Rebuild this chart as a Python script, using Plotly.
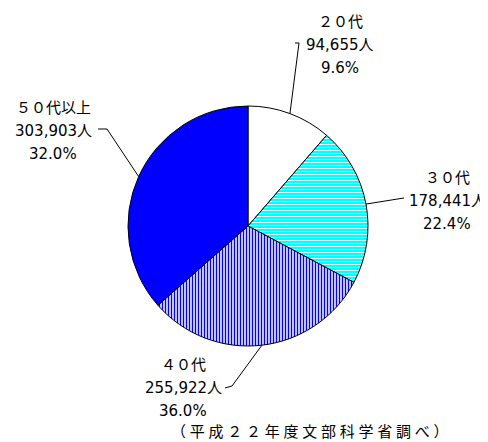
import math
import plotly.graph_objects as go

# ---- data ----
categories = ["２０代", "３０代", "４０代", "５０代以上"]
counts = [94655, 178441, 255922, 303903]
count_labels = ["94,655人", "178,441人", "255,922人", "303,903人"]
pct_labels = ["9.6%", "22.4%", "36.0%", "32.0%"]
caption = "\u2005".join("（平成２２年度文部科学省調べ）")

# ---- layout constants (pixels in the 488x442 window) ----
OFF = 8  # default page body margin
W, H = 488 - OFF, 442 - OFF
CX, CY, R = 248, 226, 120
FONT = "DejaVu Sans, Noto Sans CJK JP, sans-serif"
FS = 15
LINE_GAP = 23

# label block centres (x, y of first line) and leader elbow points
label_pos = [(340, 22), (447, 178), (183, 365), (53, 108)]
elbows = [
    [(295, 43), (299, 43)],
    [(404, 198)],
    [(225, 388), (232, 386)],
    [(98, 129), (107, 129)],
]


def px(x, y):
    return (x - OFF) / W, 1 - (y - OFF) / H


fig = go.Figure()
dx0, dy1 = px(CX - R, CY - R)
dx1, dy0 = px(CX + R, CY + R)
fig.add_trace(go.Pie(
    labels=categories,
    values=counts,
    sort=False,
    direction="clockwise",
    rotation=0,
    textinfo="none",
    hoverinfo="label+value",
    marker=dict(
        colors=["#FFFFFF", "#00FFFF", "#FFFFFF", "#0000FF"],
        line=dict(color="#000000", width=1),
        pattern=dict(
            shape=["", "-", "|", ""],
            bgcolor=["#FFFFFF", "#00FFFF", "#FFFFFF", "#0000FF"],
            fgcolor=["#000000", "#FFFFFF", "#0000FF", "#000000"],
            size=[4, 3, 3, 4],
            solidity=[0.3, 0.3, 0.5, 0.3],
            fillmode="replace",
        ),
    ),
    domain=dict(x=[dx0, dx1], y=[dy0, dy1]),
))

# labels and leader lines
total = sum(counts)
cum = 0
for i, v in enumerate(counts):
    mid = (cum + v / 2) / total * 2 * math.pi
    cum += v
    ex = CX + R * math.sin(mid)
    ey = CY - R * math.cos(mid)
    pts = elbows[i] + [(ex, ey)]
    path = "M " + " L ".join("%f,%f" % px(x, y) for x, y in pts)
    fig.add_shape(type="path", path=path, xref="paper", yref="paper",
                  line=dict(color="#000000", width=1))
    lx, ly = label_pos[i]
    for j, t in enumerate([categories[i], count_labels[i], pct_labels[i]]):
        ax, ay = px(lx, ly + j * LINE_GAP)
        fig.add_annotation(x=ax, y=ay, xref="paper", yref="paper", text=t,
                           showarrow=False, xanchor="center", yanchor="middle",
                           font=dict(family=FONT, size=FS, color="#000000"))

cx_, cy_ = px(310, 432)
fig.add_annotation(x=cx_, y=cy_, xref="paper", yref="paper", text=caption,
                   showarrow=False, xanchor="center", yanchor="middle",
                   font=dict(family=FONT, size=15, color="#000000"))

fig.update_layout(
    width=W, height=H,
    margin=dict(l=0, r=0, t=0, b=0),
    paper_bgcolor="#FFFFFF",
    plot_bgcolor="#FFFFFF",
    showlegend=False,
)

fig.write_html("out.html")
